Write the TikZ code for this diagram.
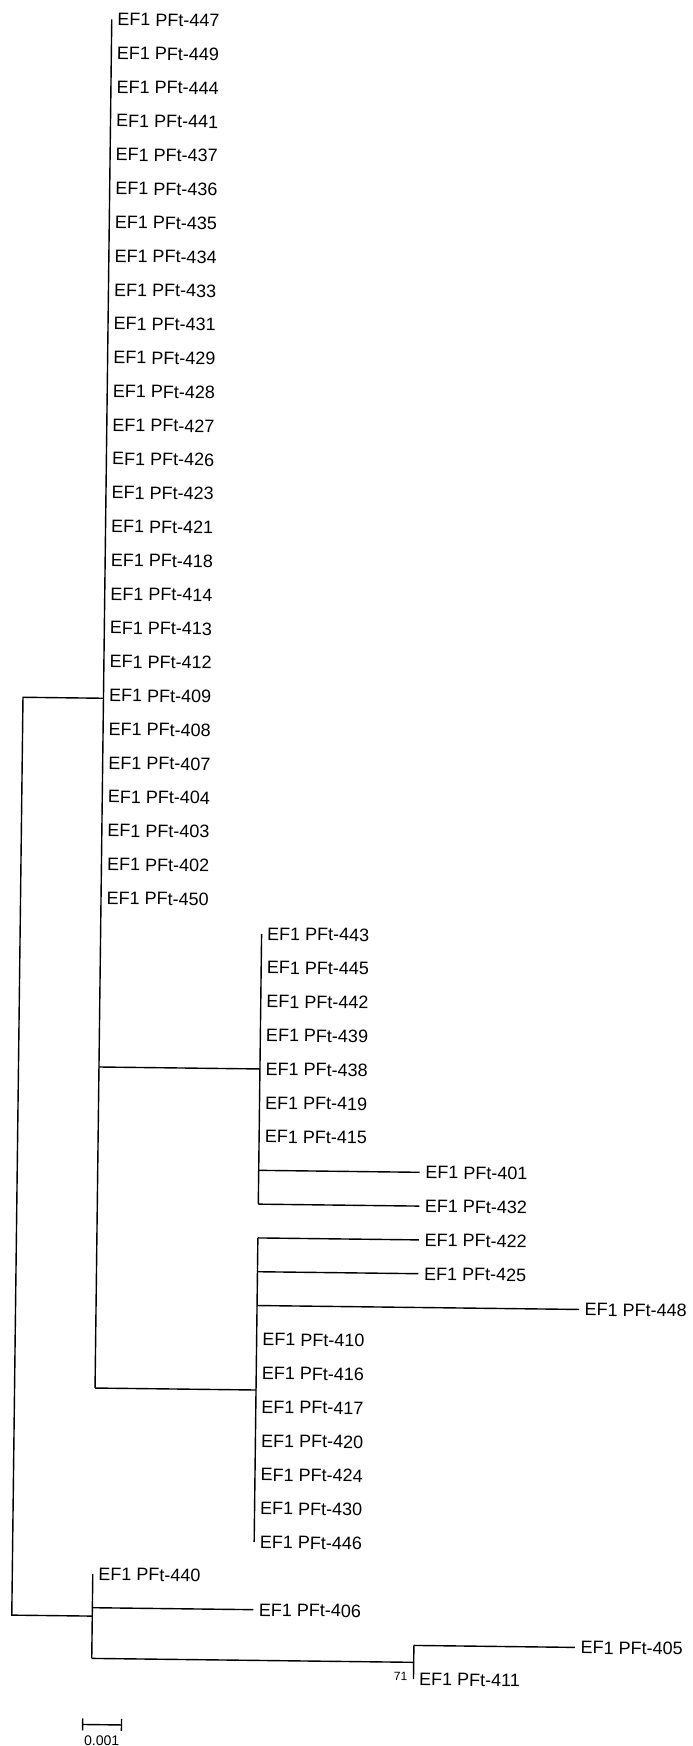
\documentclass[tikz,border=0pt]{standalone}
\usepackage{fontspec}
\setmainfont{Liberation Sans}
\usetikzlibrary{arrows.meta}
\tikzset{leaf/.style={anchor=west,inner xsep=5.5pt,inner ysep=0pt,font=\fontsize{18}{20}\selectfont},
br/.style={line width=1.4pt},boot/.style={anchor=east,inner sep=0pt,font=\fontsize{12}{14}\selectfont}}
\begin{document}
\begin{tikzpicture}[x=1pt,y=-1pt]
\useasboundingbox(0,0)rectangle(693,1746);
\begin{scope}[rotate=-0.7,transform shape]
% inner nodes
\coordinate(nR)at(31.5,1156);\coordinate(nABC)at(112,697);\coordinate(nB)at(273,1065.8);\coordinate(nC)at(273,1386.9);
\coordinate(nD)at(112,1615);\coordinate(nE)at(434,1657.3);
% first group
\node[leaf](t447)at(112,18){EF1 PFt-447};\node[leaf](t449)at(112,51.8){EF1 PFt-449};\node[leaf](t444)at(112,85.6){EF1 PFt-444};
\node[leaf](t441)at(112,119.4){EF1 PFt-441};\node[leaf](t437)at(112,153.2){EF1 PFt-437};\node[leaf](t436)at(112,187){EF1 PFt-436};
\node[leaf](t435)at(112,220.8){EF1 PFt-435};\node[leaf](t434)at(112,254.6){EF1 PFt-434};\node[leaf](t433)at(112,288.4){EF1 PFt-433};
\node[leaf](t431)at(112,322.2){EF1 PFt-431};\node[leaf](t429)at(112,356){EF1 PFt-429};\node[leaf](t428)at(112,389.8){EF1 PFt-428};
\node[leaf](t427)at(112,423.6){EF1 PFt-427};\node[leaf](t426)at(112,457.4){EF1 PFt-426};\node[leaf](t423)at(112,491.2){EF1 PFt-423};
\node[leaf](t421)at(112,525){EF1 PFt-421};\node[leaf](t418)at(112,558.8){EF1 PFt-418};\node[leaf](t414)at(112,592.6){EF1 PFt-414};
\node[leaf](t413)at(112,626.4){EF1 PFt-413};\node[leaf](t412)at(112,660.2){EF1 PFt-412};\node[leaf](t409)at(112,694){EF1 PFt-409};
\node[leaf](t408)at(112,727.8){EF1 PFt-408};\node[leaf](t407)at(112,761.6){EF1 PFt-407};\node[leaf](t404)at(112,795.4){EF1 PFt-404};
\node[leaf](t403)at(112,829.2){EF1 PFt-403};\node[leaf](t402)at(112,863){EF1 PFt-402};\node[leaf](t450)at(112,896.8){EF1 PFt-450};
% second group
\node[leaf](t443)at(273,930.6){EF1 PFt-443};\node[leaf](t445)at(273,964.4){EF1 PFt-445};\node[leaf](t442)at(273,998.2){EF1 PFt-442};
\node[leaf](t439)at(273,1032){EF1 PFt-439};\node[leaf](t438)at(273,1065.8){EF1 PFt-438};\node[leaf](t419)at(273,1099.6){EF1 PFt-419};
\node[leaf](t415)at(273,1133.4){EF1 PFt-415};\node[leaf](t401)at(434,1167.2){EF1 PFt-401};\node[leaf](t432)at(434,1201){EF1 PFt-432};
% third group
\node[leaf](t422)at(434,1234.8){EF1 PFt-422};\node[leaf](t425)at(434,1268.6){EF1 PFt-425};\node[leaf](t448)at(595,1302.4){EF1 PFt-448};
\node[leaf](t410)at(273,1336.2){EF1 PFt-410};\node[leaf](t416)at(273,1370){EF1 PFt-416};\node[leaf](t417)at(273,1403.8){EF1 PFt-417};
\node[leaf](t420)at(273,1437.6){EF1 PFt-420};\node[leaf](t424)at(273,1471.4){EF1 PFt-424};\node[leaf](t430)at(273,1505.2){EF1 PFt-430};
\node[leaf](t446)at(273,1539){EF1 PFt-446};
% outgroup
\node[leaf](t440)at(112,1572.8){EF1 PFt-440};\node[leaf](t406)at(273,1606.6){EF1 PFt-406};
\node[leaf](t405)at(595,1640.4){EF1 PFt-405};\node[leaf](t411)at(434,1674.2){EF1 PFt-411};
\node[boot](b71)at(428,1671){71};
% branches
\draw[br](nABC)-|(nR)|-(nD);
\draw[br](t447.west)--(nABC|-nC);\draw[br](nABC|-nB)--(nB);\draw[br](nABC|-nC)--(nC);
\draw[br](t443.west)--(nB|-t432.west);\draw[br](nB|-t401.west)--(t401.west);\draw[br](nB|-t432.west)--(t432.west);
\draw[br](nC|-t422.west)--(t446.west);\draw[br](nC|-t422.west)--(t422.west);\draw[br](nC|-t425.west)--(t425.west);\draw[br](nC|-t448.west)--(t448.west);
\draw[br](t440.west)--(nD|-nE);\draw[br](nD|-t406.west)--(t406.west);\draw[br](nD|-nE)--(nE);
\draw[br](nE|-t405.west)--(t411.west);\draw[br](nE|-t405.west)--(t405.west);
% scale
\coordinate(sL)at(103,1723.5);\coordinate(sR)at(143.25,1723.5);
\draw[br,{Bar[width=12pt]}-{Bar[width=12pt]}](sL)--(sR);
\node[inner sep=0pt,font=\fontsize{14}{16}\selectfont](s001)at(123,1739.5){0.001};
\end{scope}
\end{tikzpicture}
\end{document}
